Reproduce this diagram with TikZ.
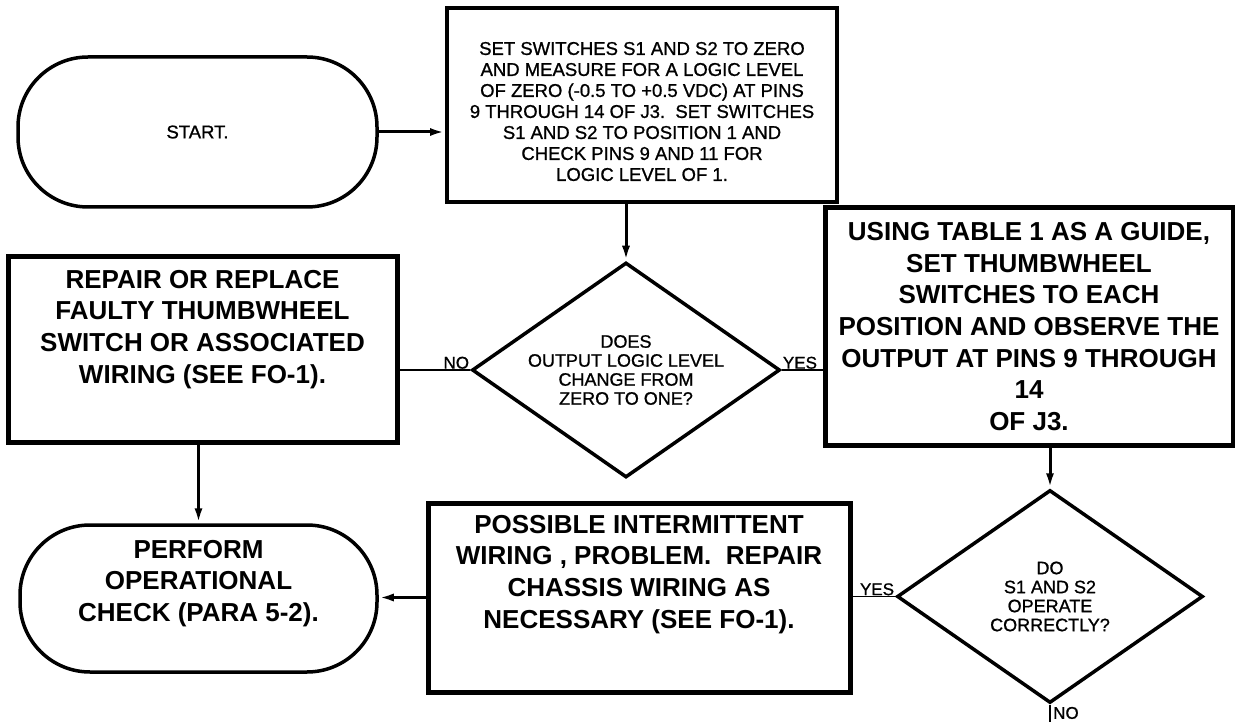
\documentclass[tikz,border=0pt]{standalone}
\usepackage{fontspec}
\setmainfont{Liberation Sans}
\newfontfamily\medfam[FakeBold=1.0]{Liberation Sans}
\usetikzlibrary{arrows.meta,positioning,shapes.geometric}

\newcommand{\boxfont}{\fontsize{26}{31.7}\selectfont\bfseries}
\newcommand{\notefont}{\medfam\fontsize{18.5}{21}\selectfont}
\newcommand{\askfont}{\medfam\fontsize{18}{19}\selectfont}
\newcommand{\tagfont}{\medfam\fontsize{17}{18}\selectfont}

\tikzset{
  bigbox/.style={draw, line width=5pt, align=center, font=\boxfont, inner sep=0pt},
  notebox/.style={draw, line width=4pt, align=center, font=\notefont, inner sep=0pt},
  term/.style={draw, line width=3.5pt, rounded corners=70pt, align=center, inner sep=0pt},
  decision/.style={diamond, draw, line width=3.5pt, aspect=1.43, inner sep=0pt,
    align=center, font=\askfont},
  flow/.style={-{Latex[length=15pt,width=8pt]}, line width=3pt},
  link/.style={line width=1.5pt},
  tag/.style={font=\tagfont, inner sep=1pt}
}

\begin{document}
\begin{tikzpicture}[x=1pt, y=-1pt]

  \useasboundingbox (0,0) rectangle (1235,722);

  % ---- Top row ----
  \node[term, font=\notefont, minimum width=359pt, minimum height=150pt]
    (start) at (197.5,132) {START.};

  \node[notebox, minimum width=390pt, minimum height=194pt] (measure) at (642,105)
    {\mbox{}\\[5pt]
     SET SWITCHES S1 AND S2 TO ZERO\\
     AND MEASURE FOR A LOGIC LEVEL\\
     OF ZERO (-0.5 TO +0.5 VDC) AT PINS\\
     9 THROUGH 14 OF J3.\ \ SET SWITCHES\\
     S1 AND S2 TO POSITION 1 AND\\
     CHECK PINS 9 AND 11 FOR\\
     LOGIC LEVEL OF 1.};

  % ---- Middle row ----
  \node[bigbox, minimum width=389pt, minimum height=185pt] (repair) at (202.5,349.5)
    {REPAIR OR REPLACE\\
     FAULTY THUMBWHEEL\\
     SWITCH OR ASSOCIATED\\
     WIRING (SEE FO-1).\\[14pt]\mbox{}};

  \node[decision, minimum width=308pt, minimum height=215pt] (d1) at (626,370)
    {DOES\\ OUTPUT LOGIC LEVEL\\ CHANGE FROM\\ ZERO TO ONE?};

  \node[bigbox, minimum width=408pt, minimum height=237pt] (guide) at (1029,326.5)
    {USING TABLE 1 AS A GUIDE,\\
     SET THUMBWHEEL\\
     SWITCHES TO EACH\\
     POSITION AND OBSERVE THE\\
     OUTPUT AT PINS 9 THROUGH\\
     14\\
     OF J3.};

  % ---- Bottom row ----
  \node[term, font=\boxfont, minimum width=357pt, minimum height=147pt]
    (perform) at (198.5,598.5)
    {PERFORM\\ OPERATIONAL\\ CHECK (PARA 5-2).\\[4pt]\mbox{}};

  \node[bigbox, minimum width=422pt, minimum height=189pt] (possible) at (639,597.5)
    {POSSIBLE INTERMITTENT\\
     WIRING , PROBLEM.\ \ REPAIR\\
     CHASSIS WIRING AS\\
     NECESSARY (SEE FO-1).\\[20pt]\mbox{}};

  \node[decision, minimum width=306pt, minimum height=213pt] (d2) at (1050,596.5)
    {DO\\ S1 AND S2\\ OPERATE\\ CORRECTLY?};

  \coordinate[below=19pt of d2.south] (nend);

  % ---- Connectors ----
  \draw[flow] (start.east) -- (start.east -| measure.west);
  \draw[flow] (measure.south -| d1.north) -- (d1.north);
  \draw[link] (d1.west) -- (d1.west -| repair.east);
  \draw[link] (d1.east) -- (d1.east -| guide.west);
  \draw[flow] (repair.south -| perform.north) -- (perform.north);
  \draw[flow] (guide.south -| d2.north) -- (d2.north);
  \draw[link] (d2.west) -- (d2.west -| possible.east);
  \draw[flow] (possible.west) -- (possible.west -| perform.east);
  \draw[link] (d2.south) -- (nend);

  % ---- Branch labels ----
  \node[tag, anchor=south east] (no1) at (d1.west) {NO};
  \node[tag, anchor=south west] (yes1) at (d1.east) {YES};
  \node[tag, anchor=south east] (yes2) at (d2.west) {YES};
  \node[tag, anchor=north west, xshift=2pt, yshift=-1pt] (no2) at (d2.south) {NO};

\end{tikzpicture}
\end{document}
